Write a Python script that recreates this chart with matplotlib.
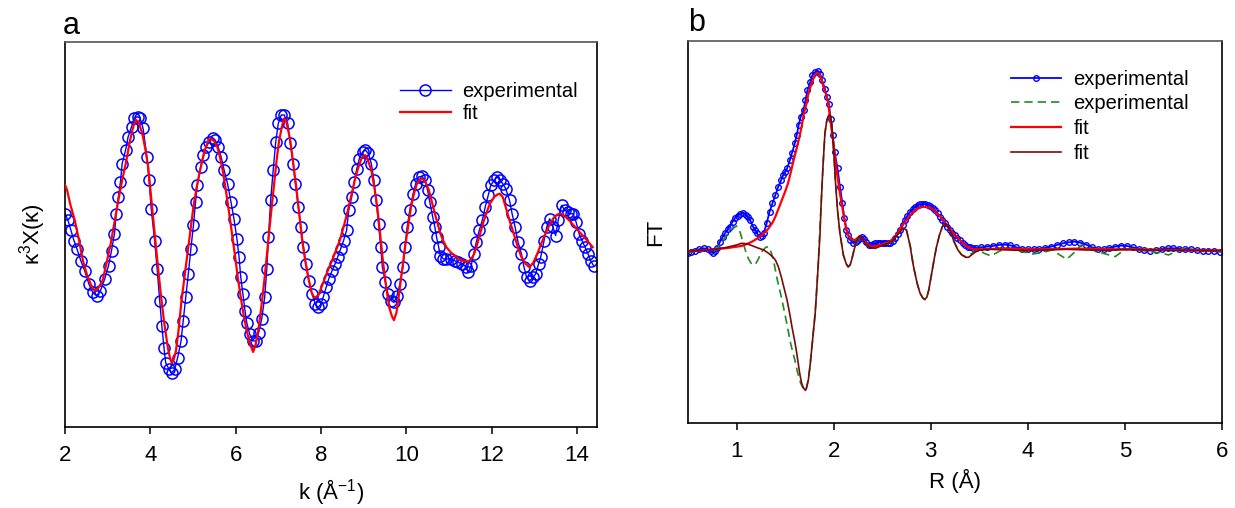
import matplotlib
matplotlib.use("Agg")
import matplotlib.pyplot as plt

plt.rcParams['font.family'] = ['Liberation Sans', 'DejaVu Sans']
plt.rcParams['mathtext.fontset'] = 'custom'
plt.rcParams['mathtext.rm'] = 'Liberation Sans'
plt.rcParams['mathtext.it'] = 'Liberation Sans'

# ---------------- Panel a: k-space ----------------
k_exp = [2.00, 2.07, 2.14, 2.21, 2.28, 2.37, 2.46, 2.56, 2.65, 2.74, 2.83, 2.93, 3.02, 3.09,
         3.16, 3.20, 3.25, 3.30, 3.34, 3.42, 3.48, 3.56, 3.62, 3.70, 3.76, 3.83, 3.92, 3.97,
         4.02, 4.10, 4.16, 4.22, 4.27, 4.32, 4.36, 4.44, 4.50, 4.57, 4.64, 4.72, 4.77, 4.83,
         4.89, 4.95, 5.01, 5.06, 5.10, 5.18, 5.24, 5.31, 5.38, 5.46, 5.52, 5.59, 5.66, 5.73,
         5.81, 5.89, 5.96, 6.03, 6.08, 6.12, 6.17, 6.22, 6.26, 6.33, 6.40, 6.48, 6.54, 6.61,
         6.68, 6.73, 6.77, 6.82, 6.88, 6.94, 7.00, 7.07, 7.14, 7.22, 7.28, 7.35, 7.40, 7.47,
         7.53, 7.59, 7.65, 7.72, 7.79, 7.87, 7.93, 8.00, 8.05, 8.12, 8.18, 8.26, 8.33, 8.39,
         8.46, 8.53, 8.60, 8.65, 8.72, 8.78, 8.84, 8.90, 8.98, 9.04, 9.11, 9.18, 9.24, 9.29,
         9.35, 9.40, 9.44, 9.51, 9.57, 9.65, 9.71, 9.78, 9.85, 9.92, 9.97, 10.02, 10.08, 10.16,
         10.22, 10.29, 10.37, 10.43, 10.50, 10.55, 10.62, 10.67, 10.71, 10.76, 10.80, 10.87,
         10.94, 11.04, 11.13, 11.22, 11.31, 11.41, 11.45, 11.52, 11.58, 11.64, 11.71, 11.78,
         11.85, 11.92, 11.98, 12.06, 12.13, 12.19, 12.26, 12.33, 12.42, 12.48, 12.55, 12.62,
         12.70, 12.76, 12.82, 12.89, 12.97, 13.03, 13.10, 13.15, 13.23, 13.29, 13.36, 13.44,
         13.50, 13.56, 13.64, 13.72, 13.78, 13.85, 13.91, 13.98, 14.05, 14.12, 14.19, 14.26,
         14.32, 14.39]
chi_exp = [0.60, 0.40, 0.10, -0.20, -0.45, -0.80, -1.10, -1.50, -1.75, -1.85, -1.70, -1.35, -0.95, -0.50,
           0.00, 0.60, 1.10, 1.55, 2.10, 2.50, 2.90, 3.20, 3.45, 3.50, 3.45, 3.15, 2.30, 1.60,
           0.75, -0.20, -1.05, -2.00, -2.75, -3.40, -3.85, -4.05, -4.15, -4.05, -3.70, -3.20, -2.60, -1.90,
           -1.20, -0.45, 0.25, 0.95, 1.45, 2.00, 2.35, 2.60, 2.75, 2.85, 2.80, 2.60, 2.30, 1.90,
           1.50, 0.95, 0.45, -0.15, -0.70, -1.30, -1.80, -2.30, -2.65, -3.00, -3.20, -3.20, -2.95, -2.55,
           -1.90, -1.05, -0.10, 1.00, 1.90, 2.75, 3.30, 3.55, 3.55, 3.30, 2.70, 2.10, 1.50, 0.80,
           0.20, -0.40, -0.90, -1.40, -1.80, -2.10, -2.20, -2.10, -1.90, -1.60, -1.35, -1.10, -0.90, -0.70,
           -0.45, -0.20, 0.10, 0.70, 1.10, 1.55, 1.95, 2.25, 2.45, 2.50, 2.40, 2.10, 1.60, 1.00,
           0.30, -0.40, -1.00, -1.45, -1.80, -2.00, -2.05, -1.85, -1.50, -1.00, -0.40, 0.20, 0.70, 1.20,
           1.50, 1.70, 1.72, 1.60, 1.30, 0.95, 0.50, 0.20, -0.10, -0.40, -0.65, -0.75,
           -0.75, -0.75, -0.80, -0.85, -0.90, -1.00, -1.15, -0.95, -0.60, -0.25, 0.10, 0.40,
           0.80, 1.15, 1.45, 1.60, 1.70, 1.60, 1.50, 1.35, 1.00, 0.60, 0.20, -0.25,
           -0.60, -1.00, -1.30, -1.40, -1.30, -1.20, -0.90, -0.70, -0.20, 0.20, 0.45, 0.20,
           -0.05, 0.40, 0.85, 0.70, 0.65, 0.60, 0.60, 0.35, 0.00, -0.20, -0.40, -0.60,
           -0.80, -0.95]

k_fit = [2.00, 2.05, 2.12, 2.23, 2.33, 2.42, 2.51, 2.60, 2.69, 2.78, 2.88, 2.97, 3.07, 3.16,
         3.25, 3.34, 3.44, 3.51, 3.58, 3.63, 3.67, 3.72, 3.81, 3.88, 3.95, 4.04, 4.11, 4.18,
         4.25, 4.32, 4.41, 4.46, 4.50, 4.55, 4.60, 4.66, 4.73, 4.80, 4.87, 4.94, 5.01, 5.08,
         5.15, 5.22, 5.29, 5.35, 5.41, 5.49, 5.57, 5.64, 5.71, 5.78, 5.85, 5.92, 5.99, 6.05,
         6.12, 6.19, 6.26, 6.34, 6.41, 6.47, 6.54, 6.61, 6.68, 6.75, 6.82, 6.89, 6.96, 7.02,
         7.07, 7.11, 7.14, 7.18, 7.23, 7.28, 7.35, 7.42, 7.49, 7.56, 7.63, 7.70, 7.78, 7.83,
         7.88, 7.95, 8.07, 8.16, 8.26, 8.35, 8.44, 8.54, 8.63, 8.72, 8.81, 8.88, 8.95, 9.00,
         9.04, 9.10, 9.18, 9.25, 9.32, 9.39, 9.46, 9.53, 9.60, 9.66, 9.71, 9.77, 9.83, 9.90,
         9.97, 10.04, 10.11, 10.18, 10.25, 10.31, 10.37, 10.45, 10.53, 10.60, 10.67, 10.74,
         10.80, 10.87, 10.94, 11.04, 11.13, 11.22, 11.31, 11.38, 11.45, 11.52, 11.59, 11.66,
         11.73, 11.80, 11.87, 11.96, 12.06, 12.13, 12.19, 12.26, 12.33, 12.42, 12.52, 12.61,
         12.70, 12.80, 12.89, 12.98, 13.07, 13.16, 13.26, 13.35, 13.44, 13.51, 13.58, 13.66,
         13.74, 13.82, 13.96, 14.10, 14.24, 14.37]
chi_fit = [1.47, 1.30, 0.90, 0.40, -0.20, -0.80, -1.20, -1.50, -1.70, -1.62, -1.40, -0.90, -0.30, 0.35,
           1.00, 1.60, 2.20, 2.70, 3.10, 3.32, 3.40, 3.35, 3.00, 2.55, 2.00, 0.80, -0.10, -1.00,
           -1.85, -2.60, -3.40, -3.70, -3.85, -3.75, -3.50, -2.90, -2.00, -1.30, -0.60, 0.10, 0.80, 1.35,
           1.80, 2.20, 2.55, 2.75, 2.85, 2.78, 2.60, 2.25, 1.80, 1.22, 0.60, -0.05, -0.70, -1.30,
           -1.90, -2.45, -2.90, -3.30, -3.53, -3.30, -2.80, -2.10, -1.30, -0.40, 0.50, 1.35, 2.20, 2.80,
           3.10, 3.35, 3.45, 3.38, 3.10, 2.80, 2.10, 1.40, 0.60, -0.20, -0.80, -1.30, -1.75, -1.88,
           -1.90, -1.80, -1.40, -1.10, -0.80, -0.50, -0.20, 0.25, 0.70, 1.20, 1.70, 2.00, 2.25, 2.33,
           2.35, 2.20, 1.90, 1.40, 0.80, -0.05, -0.90, -1.60, -2.20, -2.45, -2.58, -2.35, -1.80, -1.10,
           -0.40, 0.20, 0.80, 1.20, 1.50, 1.62, 1.65, 1.55, 1.30, 0.95, 0.60, 0.28,
           0.00, -0.22, -0.40, -0.55, -0.65, -0.73, -0.80, -0.82, -0.83, -0.76, -0.60, -0.32,
           0.00, 0.32, 0.60, 0.90, 1.10, 1.17, 1.20, 1.10, 0.80, 0.40, 0.00, -0.38,
           -0.70, -0.90, -1.00, -0.85, -0.60, -0.30, 0.00, 0.25, 0.45, 0.55, 0.60, 0.58,
           0.50, 0.40, 0.20, 0.00, -0.20, -0.40]

# ---------------- Panel b: R-space ----------------
R_exp = [0.50, 0.53, 0.57, 0.61, 0.66, 0.71, 0.74, 0.76, 0.78, 0.80, 0.83, 0.86, 0.88, 0.91,
         0.93, 0.96, 0.98, 1.01, 1.04, 1.07, 1.10, 1.12, 1.14, 1.17, 1.19, 1.21, 1.24, 1.26,
         1.28, 1.31, 1.34, 1.37, 1.40, 1.43, 1.46, 1.48, 1.50, 1.52, 1.55, 1.57, 1.60, 1.62,
         1.64, 1.66, 1.69, 1.71, 1.73, 1.76, 1.78, 1.81, 1.84, 1.86, 1.88, 1.91, 1.93, 1.95,
         1.97, 1.99, 2.01, 2.04, 2.065, 2.09, 2.11, 2.13, 2.15, 2.17, 2.20, 2.23, 2.25, 2.27,
         2.29, 2.31, 2.33, 2.36, 2.38, 2.41, 2.43, 2.46, 2.48, 2.51, 2.53, 2.56, 2.58, 2.61,
         2.63, 2.66, 2.68, 2.71, 2.735, 2.76, 2.79, 2.82, 2.84, 2.87, 2.89, 2.92, 2.94, 2.97,
         2.99, 3.02, 3.04, 3.07, 3.10, 3.12, 3.15, 3.17, 3.20, 3.22, 3.25, 3.27, 3.30, 3.33,
         3.35, 3.38, 3.40, 3.44, 3.47, 3.52, 3.58, 3.64, 3.70, 3.76, 3.82, 3.88, 3.94, 4.00,
         4.06, 4.12, 4.18, 4.24, 4.30, 4.36, 4.42, 4.48, 4.54, 4.60, 4.66, 4.72, 4.78, 4.84,
         4.90, 4.96, 5.02, 5.08, 5.14, 5.20, 5.26, 5.32, 5.38, 5.44, 5.50, 5.56, 5.62, 5.68,
         5.74, 5.80, 5.86, 5.92, 5.98]
FT_exp = [-0.08, -0.05, -0.02, 0.02, 0.05, 0.02, -0.04, -0.08, -0.04, 0.05, 0.25, 0.40, 0.50, 0.62,
          0.70, 0.85, 0.95, 1.03, 1.08, 1.12, 1.05, 0.98, 0.90, 0.70, 0.60, 0.50, 0.38, 0.42,
          0.50, 0.80, 1.15, 1.40, 1.65, 1.90, 2.10, 2.25, 2.35, 2.45, 2.70, 2.90, 3.20, 3.45,
          3.75, 4.00, 4.20, 4.50, 4.80, 5.05, 5.25, 5.35, 5.38, 5.30, 5.10, 4.85, 4.60, 4.40,
          3.95, 3.45, 2.95, 2.45, 1.90, 1.40, 0.95, 0.60, 0.45, 0.30, 0.22, 0.25, 0.30, 0.36,
          0.40, 0.33, 0.24, 0.16, 0.15, 0.18, 0.20, 0.22, 0.22, 0.21, 0.20, 0.20, 0.20, 0.28,
          0.35, 0.48, 0.60, 0.75, 0.90, 1.03, 1.15, 1.24, 1.30, 1.34, 1.37, 1.38, 1.38, 1.36,
          1.33, 1.27, 1.20, 1.10, 1.00, 0.90, 0.80, 0.70, 0.60, 0.52, 0.45, 0.37, 0.30, 0.22,
          0.15, 0.10, 0.08, 0.06, 0.05, 0.08, 0.10, 0.12, 0.15, 0.16, 0.14, 0.08, 0.04, 0.03,
          0.02, 0.03, 0.06, 0.10, 0.15, 0.20, 0.23, 0.25, 0.22, 0.16, 0.08, 0.04, 0.03, 0.06,
          0.10, 0.13, 0.12, 0.08, 0.04, 0.00, -0.02, 0.00, 0.03, 0.05, 0.05, 0.04, 0.03, 0.02,
          0.00, -0.02, -0.03, -0.04, -0.05]

R_im_exp = [0.50, 0.60, 0.70, 0.76, 0.80, 0.85, 0.90, 0.95, 1.00, 1.03, 1.06, 1.09, 1.12, 1.15,
            1.19, 1.22, 1.26, 1.30, 1.33, 1.36, 1.39, 1.42, 1.46, 1.50, 1.53, 1.56, 1.60, 1.63,
            1.66, 1.69, 1.71, 1.72, 1.74, 1.76, 1.79, 1.81, 1.84, 1.87, 1.89, 1.91, 1.93, 1.95,
            1.965, 1.98, 2.00, 2.02, 2.04, 2.065, 2.10, 2.13, 2.15, 2.17, 2.19, 2.21, 2.24, 2.27,
            2.30, 2.33, 2.36, 2.40, 2.45, 2.50, 2.56, 2.60, 2.64, 2.67, 2.70, 2.72, 2.75, 2.79,
            2.83, 2.86, 2.89, 2.92, 2.94, 2.96, 2.98, 3.01, 3.04, 3.06, 3.09, 3.12, 3.15, 3.18,
            3.21, 3.24, 3.28, 3.32, 3.36, 3.40, 3.45, 3.50, 3.55, 3.62, 3.70, 3.78, 3.86, 3.95,
            4.05, 4.15, 4.25, 4.33, 4.40, 4.47, 4.55, 4.62, 4.70, 4.80, 4.90, 4.97, 5.05, 5.15,
            5.25, 5.35, 5.45, 5.52, 5.60, 5.70, 5.80, 5.90, 6.00]
Im_exp = [-0.08, -0.03, 0.00, -0.05, 0.05, 0.25, 0.45, 0.62, 0.72, 0.60, 0.30, 0.00, -0.25, -0.40,
          -0.45, -0.30, -0.05, 0.08, 0.10, -0.10, -0.45, -0.90, -1.40, -1.95, -2.40, -2.85, -3.30, -3.70,
          -4.00, -4.18, -4.22, -4.15, -3.90, -3.40, -2.50, -1.90, -0.50, 1.30, 2.50, 3.50, 3.90, 4.05,
          4.05, 3.80, 3.00, 2.00, 1.20, 0.50, -0.15, -0.42, -0.52, -0.45, -0.25, 0.00, 0.28, 0.38,
          0.30, 0.18, 0.10, 0.08, 0.10, 0.15, 0.18, 0.25, 0.40, 0.50, 0.60, 0.65, 0.60, 0.10,
          -0.60, -1.00, -1.30, -1.45, -1.50, -1.42, -1.20, -0.70, -0.20, 0.10, 0.45, 0.70, 0.80, 0.72,
          0.50, 0.25, 0.00, -0.15, -0.20, -0.15, -0.05, 0.00, -0.10, -0.18, -0.05, 0.05, 0.00, -0.05,
          -0.12, -0.08, 0.00, -0.15, -0.28, -0.10, 0.15, 0.10, -0.05, -0.12, -0.20, -0.05, 0.05, 0.00,
          -0.05, -0.08, -0.15, -0.05, 0.05, 0.00, -0.05, -0.02, -0.05]

R_fit = [0.50, 0.60, 0.71, 0.80, 0.88, 0.96, 1.05, 1.10, 1.16, 1.21, 1.26, 1.30, 1.33, 1.37,
         1.40, 1.43, 1.46, 1.50, 1.53, 1.56, 1.58, 1.61, 1.64, 1.67, 1.69, 1.72, 1.74, 1.77,
         1.79, 1.81, 1.83, 1.85, 1.86, 1.88, 1.89, 1.92, 1.94, 1.96, 1.98, 2.00, 2.03, 2.065,
         2.10, 2.13, 2.15, 2.17, 2.20, 2.22, 2.25, 2.27, 2.30, 2.32, 2.36, 2.39, 2.43, 2.48,
         2.52, 2.56, 2.60, 2.63, 2.67, 2.70, 2.75, 2.79, 2.83, 2.87, 2.91, 2.94, 2.98, 3.01,
         3.05, 3.10, 3.14, 3.18, 3.22, 3.27, 3.31, 3.35, 3.40, 3.44, 3.50, 3.70, 3.90, 4.10,
         4.30, 4.50, 4.70, 4.90, 5.10, 5.30, 5.50, 5.70, 6.00]
FT_fit = [-0.05, -0.02, 0.00, 0.03, 0.05, 0.08, 0.12, 0.17, 0.25, 0.34, 0.45, 0.55, 0.65, 0.82,
          1.00, 1.22, 1.45, 1.75, 2.00, 2.35, 2.60, 2.95, 3.30, 3.70, 4.05, 4.40, 4.70, 4.98,
          5.15, 5.27, 5.32, 5.30, 5.25, 5.08, 4.95, 4.70, 4.50, 4.05, 3.60, 3.15, 2.40, 1.70,
          1.10, 0.65, 0.45, 0.35, 0.30, 0.30, 0.36, 0.40, 0.33, 0.25, 0.15, 0.10, 0.12, 0.15,
          0.19, 0.22, 0.30, 0.40, 0.55, 0.70, 0.90, 1.05, 1.17, 1.25, 1.29, 1.30, 1.28, 1.25,
          1.15, 1.00, 0.85, 0.70, 0.55, 0.40, 0.27, 0.15, 0.06, 0.02, 0.02, 0.04, 0.03, 0.02,
          0.03, 0.04, 0.03, 0.02, 0.02, 0.01, 0.00, -0.01, -0.02]

R_im_fit = [0.50, 0.60, 0.71, 0.80, 0.90, 1.00, 1.05, 1.10, 1.15, 1.22, 1.28, 1.33, 1.37, 1.40,
            1.43, 1.46, 1.49, 1.52, 1.55, 1.57, 1.60, 1.62, 1.65, 1.67, 1.69, 1.71, 1.72, 1.74,
            1.76, 1.77, 1.79, 1.81, 1.83, 1.84, 1.86, 1.87, 1.89, 1.91, 1.93, 1.95, 1.965, 1.98,
            2.00, 2.02, 2.04, 2.065, 2.10, 2.13, 2.15, 2.17, 2.19, 2.21, 2.24, 2.27, 2.30, 2.33,
            2.36, 2.40, 2.43, 2.47, 2.51, 2.56, 2.60, 2.64, 2.67, 2.70, 2.72, 2.75, 2.77, 2.79,
            2.81, 2.83, 2.86, 2.89, 2.92, 2.94, 2.96, 2.98, 3.01, 3.04, 3.06, 3.09, 3.12, 3.15,
            3.18, 3.21, 3.24, 3.28, 3.32, 3.36, 3.39, 3.42, 3.46, 3.51, 3.60, 3.80, 4.00, 4.20,
            4.40, 4.60, 4.80, 5.00, 5.20, 5.50, 6.00]
Im_fit = [-0.05, -0.02, 0.00, 0.03, 0.08, 0.15, 0.20, 0.19, 0.14, 0.06, 0.00, -0.10, -0.20, -0.30,
          -0.50, -0.80, -1.15, -1.50, -1.95, -2.30, -2.75, -3.10, -3.70, -4.00, -4.15, -4.22, -4.15, -3.90,
          -3.40, -3.10, -2.50, -1.90, -1.00, -0.50, 0.50, 1.30, 2.50, 3.50, 3.90, 4.05, 4.05, 3.80,
          3.00, 2.00, 1.20, 0.50, -0.15, -0.42, -0.50, -0.45, -0.25, 0.00, 0.30, 0.42, 0.32, 0.18,
          0.10, 0.06, 0.05, 0.10, 0.15, 0.20, 0.25, 0.40, 0.50, 0.60, 0.65, 0.60, 0.35, 0.10,
          -0.30, -0.60, -1.00, -1.30, -1.45, -1.48, -1.42, -1.20, -0.70, -0.20, 0.10, 0.45, 0.70, 0.80,
          0.72, 0.50, 0.25, 0.00, -0.15, -0.22, -0.22, -0.15, -0.06, 0.00, 0.02, 0.00, -0.02, 0.00,
          0.02, 0.00, -0.01, 0.01, 0.00, -0.01, -0.02]

# ---------------- Figure ----------------
fig = plt.figure(figsize=(12.35, 5.08), dpi=100)
W, H = 1235.0, 508.0
axa = fig.add_axes([65 / W, 1 - 427 / H, (597 - 65) / W, (427 - 42) / H])
axb = fig.add_axes([688 / W, 1 - 423 / H, (1222 - 688) / W, (423 - 41) / H])

TICK_FS = 16
LAB_FS = 16
LEG_FS = 14.5

# Panel a
axa.plot(k_exp, chi_exp, color='#0000ff', lw=1.0, marker='o', ms=8, mfc='none',
         mec='#0000ff', mew=1.1, label='experimental', zorder=2)
axa.plot(k_fit, chi_fit, color='#ff0000', lw=1.6, label='fit', zorder=3)
axa.set_xlim(2.0, 14.47)
axa.set_ylim(-5.77, 5.73)
axa.set_xticks([2, 4, 6, 8, 10, 12, 14])
axa.set_yticks([])
axa.set_xlabel('k (Å$^{-1}$)', fontsize=LAB_FS, labelpad=8)
axa.set_ylabel('κ$^3$Χ(κ)', fontsize=LAB_FS, labelpad=12)
axa.text(-0.005, 1.022, 'a', transform=axa.transAxes, fontsize=22, ha='left', va='baseline')
la = axa.legend(loc='upper left', bbox_to_anchor=(0.63, 0.895), frameon=False,
                fontsize=LEG_FS, handlelength=2.5, handletextpad=0.6, labelspacing=0.15,
                borderpad=0, borderaxespad=0)

# Panel b
axb.plot(R_exp, FT_exp, color='#0000ff', lw=1.3, marker='o', ms=4, mfc='none',
         mec='#0000ff', mew=1.0, label='experimental', zorder=2)
axb.plot(R_im_exp, Im_exp, color='#1e8c1e', lw=1.2, ls=(0, (5, 3)), label='experimental', zorder=2)
axb.plot(R_fit, FT_fit, color='#ff0000', lw=1.6, label='fit', zorder=3)
axb.plot(R_im_fit, Im_fit, color='#7a0a0a', lw=1.2, label='fit', zorder=3)
axb.set_xlim(0.5, 6.0)
axb.set_ylim(-5.2, 6.28)
axb.set_xticks([1, 2, 3, 4, 5, 6])
axb.set_yticks([])
axb.set_xlabel('R (Å)', fontsize=LAB_FS, labelpad=5)
axb.set_ylabel('FT', fontsize=LAB_FS, labelpad=16)
axb.text(0.0, 1.025, 'b', transform=axb.transAxes, fontsize=22, ha='left', va='baseline')
lb = axb.legend(loc='upper left', bbox_to_anchor=(0.605, 0.925), frameon=False,
                fontsize=LEG_FS, handlelength=2.5, handletextpad=0.6, labelspacing=0.28,
                borderpad=0, borderaxespad=0)

for ax in (axa, axb):
    for s in ax.spines.values():
        s.set_linewidth(1.2)
        s.set_color('black')
    ax.spines['top'].set_color('#555555')
    ax.tick_params(axis='x', direction='out', length=5, width=1.1, labelsize=TICK_FS, pad=8)

fig.savefig('out.png', dpi=100)
